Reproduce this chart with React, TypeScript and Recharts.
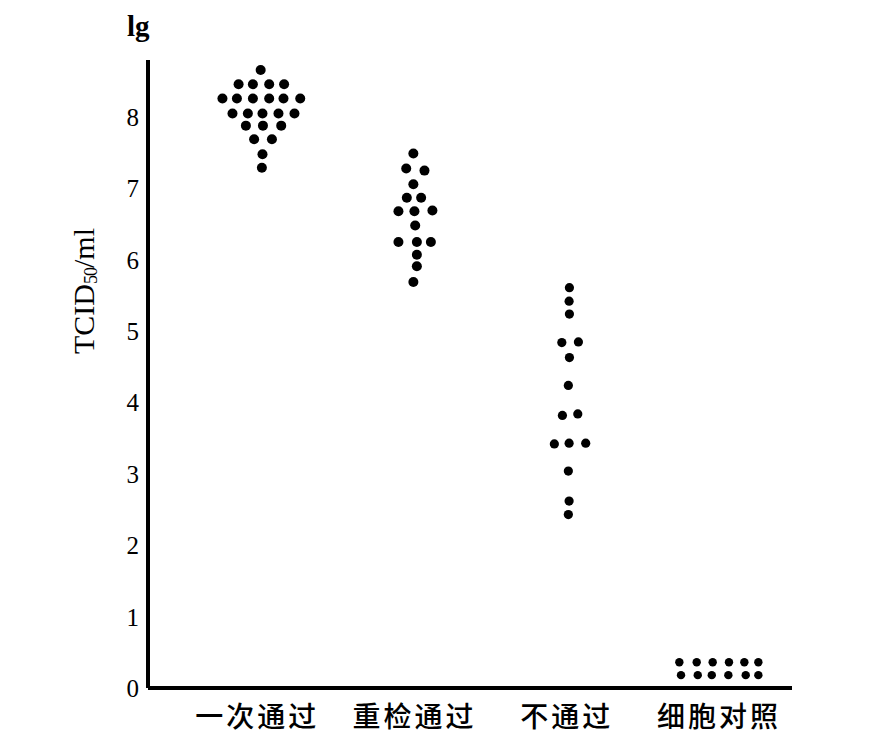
import React from "react";
import { ScatterChart, Scatter, XAxis, YAxis } from "recharts";

// group labels along the x axis
const categories = ["一次通过", "重检通过", "不通过", "细胞对照"];
const yTicks = [0, 1, 2, 3, 4, 5, 6, 7, 8];

// [horizontal jitter within the group, lg TCID50/ml]
const passFirst: [number, number][] = [
  [-0.01, 8.66],
  [-0.155, 8.46], [-0.061, 8.46], [0.046, 8.46], [0.144, 8.46],
  [-0.261, 8.26], [-0.166, 8.26], [-0.061, 8.26], [0.046, 8.26], [0.14, 8.26], [0.25, 8.26],
  [-0.195, 8.05], [-0.094, 8.05], [0.002, 8.05], [0.107, 8.05], [0.212, 8.05],
  [-0.107, 7.88], [0.005, 7.88], [0.125, 7.88],
  [-0.053, 7.69], [0.064, 7.69],
  [0.002, 7.48],
  [-0.002, 7.29],
];

const passRetest: [number, number][] = [
  [-0.007, 7.49],
  [-0.054, 7.28], [0.066, 7.25],
  [-0.007, 7.06],
  [-0.05, 6.87], [0.044, 6.87],
  [-0.105, 6.68], [0, 6.68], [0.118, 6.69],
  [0.005, 6.48],
  [-0.105, 6.25], [0.016, 6.25], [0.108, 6.25],
  [0.016, 6.07],
  [0.016, 5.91],
  [-0.007, 5.69],
];

const failed: [number, number][] = [
  [0.018, 5.61],
  [0.016, 5.42],
  [0.018, 5.24],
  [-0.032, 4.84], [0.077, 4.85],
  [0.018, 4.63],
  [0.011, 4.24],
  [-0.028, 3.82], [0.073, 3.84],
  [-0.081, 3.42], [0.016, 3.43], [0.125, 3.43],
  [0.011, 3.04],
  [0.016, 2.62],
  [0.011, 2.43],
];

const cellControl: [number, number][] = [
  [-0.26, 0.36], [-0.146, 0.36], [-0.041, 0.36], [0.066, 0.36], [0.167, 0.36], [0.259, 0.36],
  [-0.249, 0.18], [-0.139, 0.18], [-0.047, 0.18], [0.062, 0.18], [0.176, 0.18], [0.259, 0.18],
];

const groups = [passFirst, passRetest, failed, cellControl];

const toPoints = (pts: [number, number][], idx: number) =>
  pts.map(([dx, v]) => ({ x: idx + 1 + dx, y: v }));

const dotShape = (r: number) => (props: any) =>
  <circle cx={props.cx} cy={props.cy} r={r} fill="#000" />;

const serif = "'Liberation Serif', 'DejaVu Serif', serif";

function CategoryTick(props: any) {
  const { x, y, payload } = props;
  const label = categories[payload.value - 1];
  return (
    <text
      x={x - (payload.value === 1 ? 5 : 0)}
      y={y + 39}
      textAnchor="middle"
      fontFamily="'Noto Sans CJK SC', sans-serif"
      fontSize={28}
      fontWeight={500}
      letterSpacing={3}
      fill="#000"
    >
      {label}
    </text>
  );
}

export default function App() {
  const radii = [5, 5, 4.6, 4.2];
  return (
    <div style={{ position: "absolute", left: 0, top: 0, width: 880, height: 746, background: "#fff" }}>
      <div style={{ position: "absolute", left: 127, top: 10, fontFamily: serif, fontWeight: 700, fontSize: 29 }}>
        lg
      </div>
      <div
        style={{
          position: "absolute",
          left: 84,
          top: 291,
          transform: "translate(-50%, -50%) rotate(-90deg)",
          fontFamily: serif,
          fontSize: 30,
          whiteSpace: "nowrap",
        }}
      >
        TCID<sub style={{ fontSize: 18, verticalAlign: "-3px", letterSpacing: -1 }}>50</sub>/ml
      </div>
      <ScatterChart width={880} height={746} margin={{ top: 60, right: 88, bottom: 18, left: 88 }}>
        <XAxis
          type="number"
          dataKey="x"
          domain={[0.25, 4.48]}
          ticks={[1, 2, 3, 4]}
          allowDataOverflow
          tickLine={false}
          tickSize={0}
          tickMargin={0}
          height={40}
          axisLine={{ stroke: "#000", strokeWidth: 4 }}
          tick={<CategoryTick />}
        />
        <YAxis
          type="number"
          dataKey="y"
          domain={[0, 8.8]}
          ticks={yTicks}
          allowDataOverflow
          width={60}
          tickLine={false}
          tickSize={4}
          tickMargin={5}
          axisLine={{ stroke: "#000", strokeWidth: 4 }}
          tick={{ fill: "#000", fontSize: 25, fontFamily: serif }}
        />
        {groups.map((g, i) => (
          <Scatter
            key={categories[i]}
            data={toPoints(g, i)}
            fill="#000"
            shape={dotShape(radii[i])}
            isAnimationActive={false}
          />
        ))}
      </ScatterChart>
    </div>
  );
}
